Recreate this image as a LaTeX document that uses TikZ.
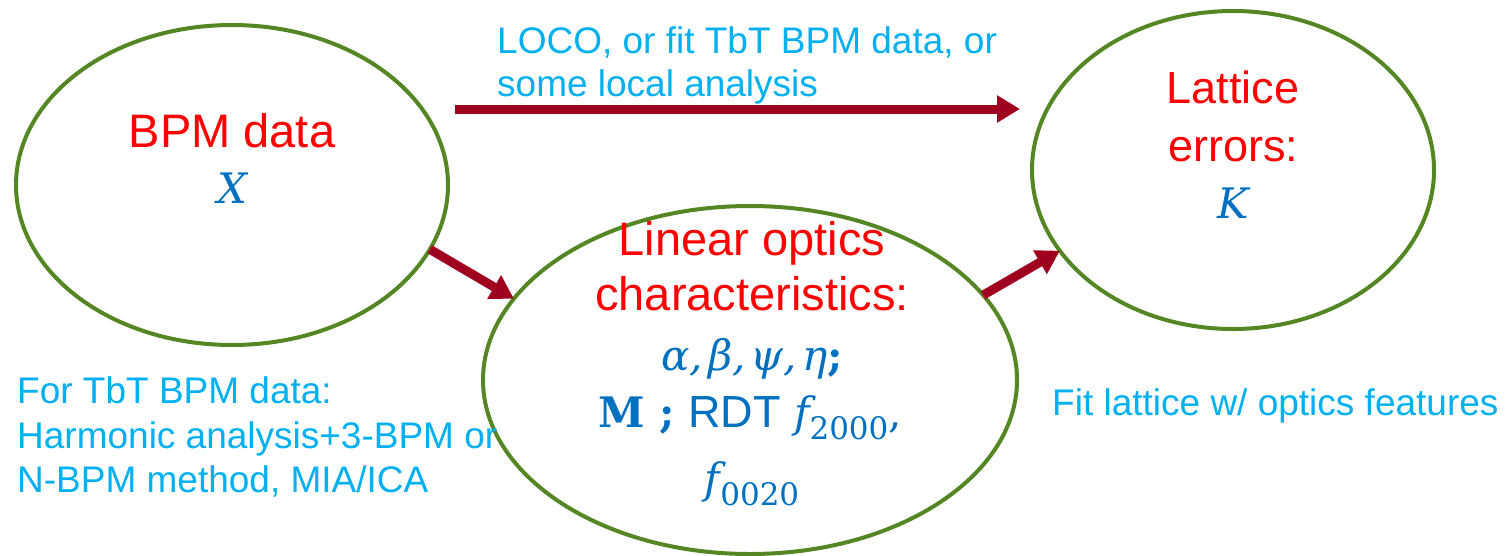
\RequirePackage{fix-cm}
\documentclass[tikz,border=0pt]{standalone}
\usepackage[no-math]{fontspec}
\setmainfont{Liberation Sans}
\newfontfamily\mserif{DejaVu Serif}
\usetikzlibrary{shapes.geometric,arrows.meta}
\definecolor{egreen}{RGB}{84,134,35}
\definecolor{dred}{RGB}{160,0,32}
\definecolor{lblue}{RGB}{0,176,240}
\definecolor{mblue}{RGB}{0,112,192}
\definecolor{tred}{RGB}{255,0,0}
\newcommand{\subnum}[1]{\raisebox{-0.3em}{\fontsize{31}{32}\selectfont\mserif #1}}
\begin{document}
\begin{tikzpicture}[x=1pt,y=-1pt,
  oval/.style={ellipse, draw=egreen, line width=4pt, inner sep=0pt, outer sep=0pt},
  conn/.style={draw=dred, line width=9pt, -{Triangle[length=23pt,width=26pt]}},
  title/.style={anchor=base, text=tred, inner sep=0pt, font=\fontsize{47}{50}\selectfont},
  mathtxt/.style={anchor=base, text=mblue, inner sep=0pt, font=\fontsize{42}{50}\selectfont\mserif},
  note/.style={anchor=base west, text=lblue, inner sep=0pt, font=\fontsize{37}{44}\selectfont}]
\useasboundingbox (0,0) rectangle (1511,555);
% ellipses
\node[oval, minimum width=432pt, minimum height=320pt] (bpm) at (232,185) {};
\node[oval, minimum width=402pt, minimum height=318pt] (lat) at (1233,170) {};
\node[oval, minimum width=534pt, minimum height=348pt] (lin) at (750,380) {};
% texts in ellipses
\node[title] (bpmA) at (232,147) {BPM data};
\node[mathtxt] (bpmB) at (232,203) {\itshape X};
\node[title, font=\fontsize{45}{50}\selectfont] (latA) at (1233,103) {Lattice};
\node[title, font=\fontsize{45}{50}\selectfont] (latB) at (1233,161) {errors:};
\node[mathtxt] (latC) at (1233,218) {\itshape K};
\node[title] (linA) at (752,255) {Linear optics};
\node[title] (linB) at (752,310) {characteristics:};
\node[mathtxt] (linC) at (752,370) {{\itshape α,\kern0.12em β,\kern0.12em ψ,\kern0.12em η}{\bfseries ;}};
\node[mathtxt] (linD) at (750,427) {{\bfseries M ;} {\fontsize{45}{50}\selectfont\rmfamily RDT} {\itshape f}\subnum{2000},};
\node[mathtxt] (linE) at (752,493) {{\itshape f}\subnum{0020}};
% notes
\node[note] (locoA) at (497,53) {LOCO, or fit TbT BPM data, or};
\node[note] (locoB) at (497,96) {some local analysis};
\node[note] (tbtA) at (17,403) {For TbT BPM data:};
\node[note] (tbtB) at (17,448) {Harmonic analysis+3-BPM or};
\node[note] (tbtC) at (17,492) {N-BPM method, MIA/ICA};
\node[note] (fit) at (1052,415) {Fit lattice w/ optics features};
% connectors
\coordinate (topS) at (455,109);
\coordinate (topE) at (1020,109);
\draw[conn] (topS) -- (topE);
\draw[conn] (bpm.-18) -- (lin.161);
\draw[conn] (lin.20.5) -- (lat.-155.5);
\end{tikzpicture}
\end{document}
